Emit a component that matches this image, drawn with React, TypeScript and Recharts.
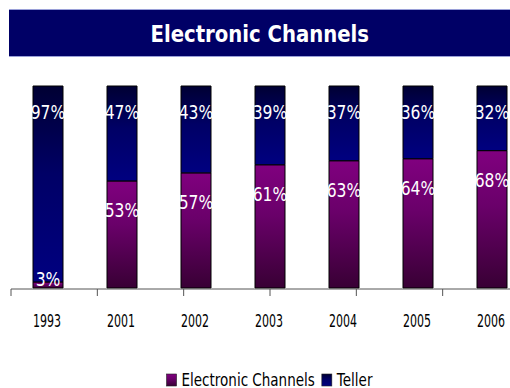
import { BarChart, Bar, XAxis, YAxis, LabelList, Legend } from 'recharts';

// Share of transactions by channel, in percent
const years = ['1993', '2001', '2002', '2003', '2004', '2005', '2006'];
const electronic = [3, 53, 57, 61, 63, 64, 68];
const teller = [97, 47, 43, 39, 37, 36, 32];
// category edges for the tick marks between the bars
const edges = [0, 1, 2, 3, 4, 5, 6, 7];

const data = years.map((year, i) => ({ year, electronic: electronic[i], teller: teller[i] }));

const FONT = '"DejaVu Sans", Verdana, sans-serif';

let ctx: CanvasRenderingContext2D | null = null;
const measure = (text: string, font: string) => {
  if (!ctx) ctx = document.createElement('canvas').getContext('2d');
  if (!ctx) return text.length * 9;
  ctx.font = font;
  return ctx.measureText(text).width;
};

function YearTick({ x, y, payload }: any) {
  return (
    <text
      x={x - 1}
      y={y + 39}
      textAnchor="middle"
      fontSize={18}
      fontFamily={FONT}
      fill="#000"
      textLength={28}
      lengthAdjust="spacingAndGlyphs"
    >
      {payload.value}
    </text>
  );
}

const pctText = (cx: number, base: number, value: number) => (
  <text
    transform={`translate(${cx},${base}) scale(0.78,1)`}
    textAnchor="middle"
    fontSize={20}
    fontFamily={FONT}
    fill="#fff"
  >
    {value}%
  </text>
);

// label of the teller segment itself
const TellerLabel = (props: any) => {
  const { x, y, width, value } = props;
  return pctText(Number(x) + Number(width) / 2, Number(y) + 33, value);
};

// label of the electronic segment, drawn from the teller bar so it sits on top
const ElectronicLabel = (props: any) => {
  const { x, y, width, height, value, index } = props;
  const t = teller[index] ?? 1;
  const unit = Number(height) / t;
  const top = Number(y) + Number(height);
  const h = value * unit;
  const base = h > 42 ? top + 36 : top + h - 2;
  return pctText(Number(x) + Number(width) / 2, base, value);
};

function ChannelLegend({ payload }: any) {
  const items = (payload || []) as any[];
  const font = `18px ${FONT}`;
  const widths = items.map((it) => measure(String(it.value), font) * 0.75);
  const total = widths.reduce((s, w) => s + w + 16, 0) + 6 * (items.length - 1);
  let cx = (540 - total) / 2;
  return (
    <svg width={540} height={19} style={{ display: 'block' }}>
      {items.map((it, i) => {
        const sx = cx;
        cx += widths[i] + 16 + 6;
        return (
          <g key={it.value}>
            <rect x={sx} y={5} width={10} height={12} fill={it.color} stroke="#222" strokeWidth={0.6} />
            <text
              x={sx + 15}
              y={17}
              fontSize={18}
              fontFamily={FONT}
              fill="#000"
              textLength={widths[i]}
              lengthAdjust="spacingAndGlyphs"
            >
              {it.value}
            </text>
          </g>
        );
      })}
    </svg>
  );
}

export default function App() {
  return (
    <div
      style={{
        position: 'fixed',
        left: 0,
        top: 0,
        width: 510,
        height: 388,
        overflow: 'hidden',
        background: '#fff',
      }}
    >
      <div
        style={{
          position: 'absolute',
          left: 9,
          top: 9,
          width: 501,
          height: 46,
          background: '#000066',
          borderTop: '1px solid #9aa0d8',
          borderBottom: '1px solid #9aa0d8',
          textAlign: 'center',
          lineHeight: '46px',
        }}
      >
        <span
          style={{
            display: 'inline-block',
            color: '#fff',
            fontFamily: FONT,
            fontWeight: 'bold',
            fontSize: 23,
            paddingTop: 1,
            transform: 'scaleX(0.855)',
          }}
        >
          Electronic Channels
        </span>
      </div>
      <BarChart
        width={540}
        height={388}
        data={data}
        barSize={30}
        margin={{ top: 86, right: 11, bottom: 40, left: 11 }}
      >
        <defs>
          <linearGradient id="gradTeller" x1="0" y1="0" x2="0" y2="1">
            <stop offset="0%" stopColor="#000033" />
            <stop offset="45%" stopColor="#000066" />
            <stop offset="100%" stopColor="#000080" />
          </linearGradient>
          <linearGradient id="gradElec" x1="0" y1="0" x2="0" y2="1">
            <stop offset="0%" stopColor="#80007f" />
            <stop offset="40%" stopColor="#6a006a" />
            <stop offset="100%" stopColor="#380034" />
          </linearGradient>
        </defs>
        <XAxis
          dataKey="year"
          height={1}
          axisLine={false}
          tickLine={false}
          tickSize={0}
          tickMargin={0}
          interval={0}
          tick={<YearTick />}
        />
        <XAxis
          xAxisId="edges"
          type="number"
          domain={[0, 7]}
          ticks={edges}
          interval={0}
          height={40}
          tickSize={7}
          tickFormatter={() => ''}
          stroke="#555"
          allowDataOverflow
        />
        <YAxis hide domain={[0, 100]} />
        <Legend
          content={<ChannelLegend />}
          verticalAlign="bottom"
          wrapperStyle={{ top: 369, left: 0, width: 540 }}
        />
        <Bar
          dataKey="electronic"
          name="Electronic Channels"
          stackId="a"
          fill="url(#gradElec)"
          stroke="#000"
          strokeWidth={1}
          isAnimationActive={false}
        />
        <Bar
          dataKey="teller"
          name="Teller"
          stackId="a"
          fill="url(#gradTeller)"
          stroke="#000"
          strokeWidth={1}
          isAnimationActive={false}
        >
          <LabelList dataKey="teller" content={<TellerLabel />} />
          <LabelList dataKey="electronic" content={<ElectronicLabel />} />
        </Bar>
      </BarChart>
    </div>
  );
}
